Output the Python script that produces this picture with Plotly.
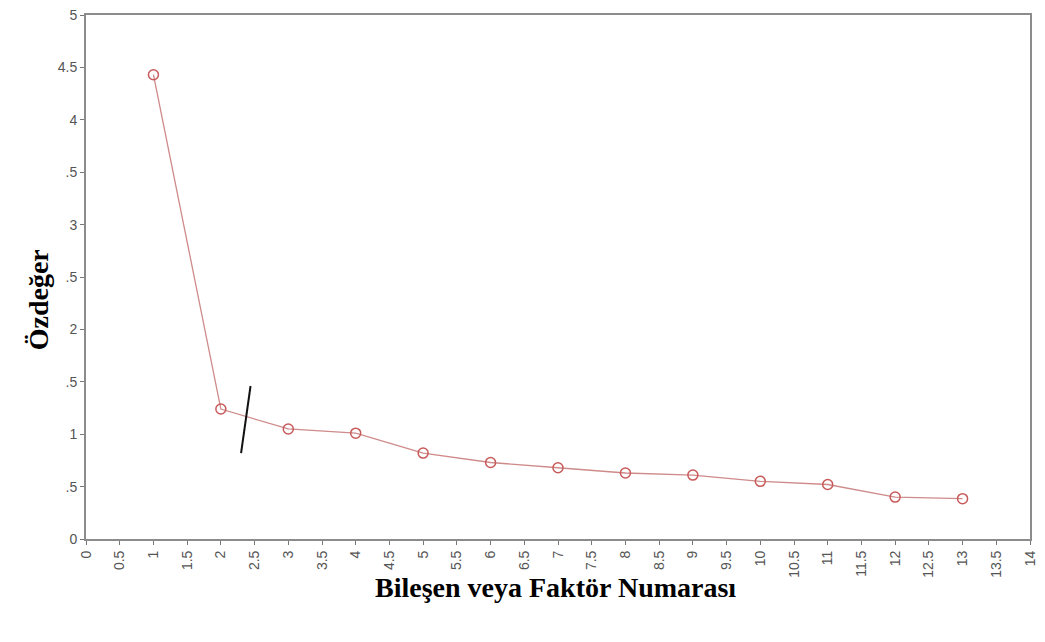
import plotly.graph_objects as go

# Data
components = [1, 2, 3, 4, 5, 6, 7, 8, 9, 10, 11, 12, 13]
eigenvalues = [4.43, 1.24, 1.05, 1.01, 0.82, 0.73, 0.68, 0.63, 0.61, 0.55, 0.52, 0.40, 0.385]

# Hand-drawn "elbow" stroke
elbow_x = [2.30, 2.44]
elbow_y = [0.82, 1.46]

x_tickvals = [i * 0.5 for i in range(29)]
x_ticktext = ["0", "0.5", "1", "1.5", "2", "2.5", "3", "3.5", "4", "4.5", "5", "5.5", "6", "6.5",
              "7", "7.5", "8", "8.5", "9", "9.5", "10", "10.5", "11", "11.5", "12", "12.5", "13",
              "13.5", "14"]
y_tickvals = [0, 0.5, 1, 1.5, 2, 2.5, 3, 3.5, 4, 4.5, 5]
y_ticktext = ["0", ".5", "1", ".5", "2", ".5", "3", ".5", "4", "4.5", "5"]

fig = go.Figure()
fig.add_trace(go.Scatter(
    x=components, y=eigenvalues, mode="lines+markers",
    line=dict(color="#cf8a8a", width=1.3),
    marker=dict(symbol="circle-open", size=10, color="#c85a5a", line=dict(width=1.5)),
    showlegend=False,
))
fig.add_trace(go.Scatter(
    x=elbow_x, y=elbow_y, mode="lines",
    line=dict(color="#111111", width=2), showlegend=False,
))

axis_common = dict(
    showgrid=False, zeroline=False, showline=True, linecolor="#8c8c8c", linewidth=2,
    mirror=True, ticks="outside", ticklen=4, tickwidth=1, tickcolor="#777777",
    tickfont=dict(family="Liberation Sans, Arial, sans-serif", size=14, color="#555555"),
)
fig.update_xaxes(range=[0, 14], tickmode="array", tickvals=x_tickvals, ticktext=x_ticktext,
                 tickangle=-90, **axis_common)
fig.update_yaxes(range=[0, 5], tickmode="array", tickvals=y_tickvals, ticktext=y_ticktext,
                 **axis_common)

title_font = dict(family="Liberation Serif, Times New Roman, serif", size=28, color="#000000")
fig.add_annotation(text="<b>Bileşen veya Faktör Numarası</b>", xref="paper", yref="paper",
                   x=0.497, y=-0.092, xanchor="center", yanchor="middle", showarrow=False,
                   font=title_font)
fig.add_annotation(text="<b>Özdeğer</b>", xref="paper", yref="paper",
                   x=-0.05, y=0.457, xanchor="center", yanchor="middle", showarrow=False,
                   textangle=-90, font=title_font)

fig.update_layout(
    width=1045, height=642,
    margin=dict(l=86, r=12, t=7, b=103),
    paper_bgcolor="white", plot_bgcolor="white",
)

fig.write_html("out.html")
